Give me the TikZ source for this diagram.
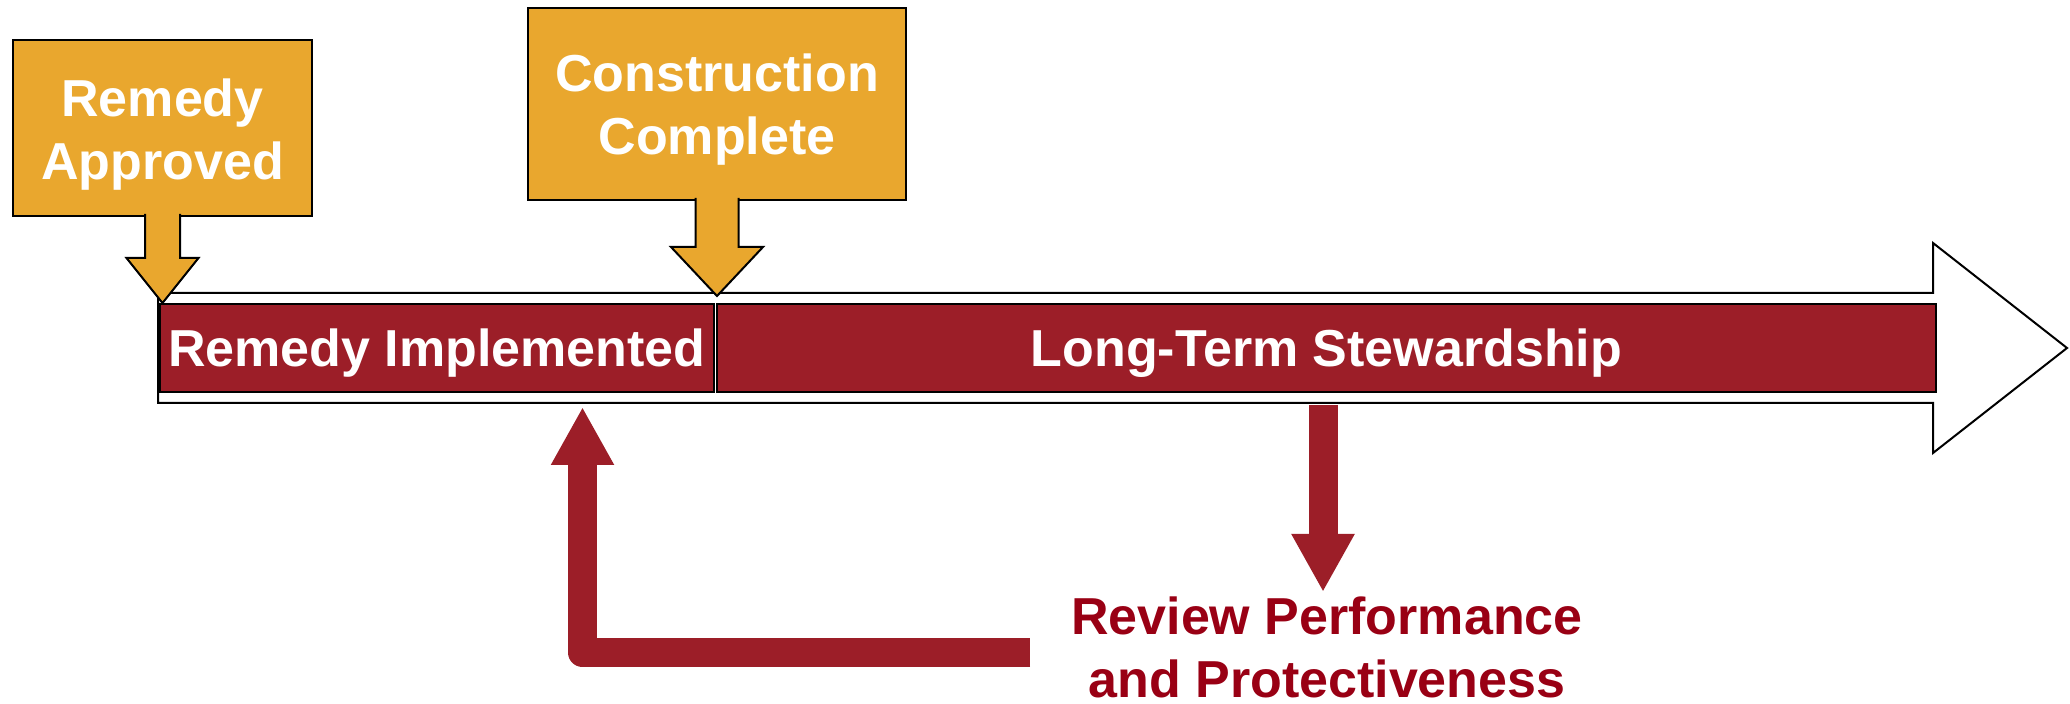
\documentclass[tikz,border=0pt]{standalone}
\usepackage{fontspec}
\setmainfont{Liberation Sans}
\usetikzlibrary{arrows.meta,calc}
\definecolor{calloutgold}{RGB}{233,167,46}
\definecolor{phasered}{RGB}{156,30,40}
\definecolor{reviewred}{RGB}{153,0,20}
\begin{document}
\begin{tikzpicture}[x=0.5pt, y=-0.5pt,
    big/.style={font=\fontsize{26}{31.5}\selectfont\bfseries},
    callout/.style={big, draw=black, line width=1pt, fill=calloutgold, text=white, align=center, inner sep=0pt},
    calloutarrow/.style={draw=black, line width=1pt, fill=calloutgold},
    phase/.style={big, draw=black, line width=1pt, fill=phasered, text=white, inner sep=0pt,
      minimum height=44pt, text height=19pt, text depth=0pt},
    feedback/.style={phasered, line width=14.5pt, line join=round, -{Triangle[width=29.5pt, length=29pt]}}]
    \useasboundingbox (0,0) rectangle (2070,704);
      \draw[line width=1pt, fill=white] (158,293) -- (1933,293) -- (1933,243) -- (2067,348)
        -- (1933,453) -- (1933,403) -- (158,403) -- cycle;
      \node[phase, minimum width=277pt] (ri) at (437,348) {Remedy Implemented};
      \node[phase, minimum width=609.5pt] (lts) at (1326.5,348) {Long-Term Stewardship};
      \node[callout, minimum width=149.5pt, minimum height=88pt] (ra) at (162.5,128)
        {\rule{0pt}{25.5pt}Remedy\\Approved};
      \node[callout, minimum width=189pt, minimum height=96pt] (cc) at (717,104)
        {\rule{0pt}{24.5pt}Construction\\Complete};
      \draw[calloutarrow] ($(ra.south)+(-17.5,-3)$) -- ++(0,44) -- ++(-18.5,0) -- ++(36,45)
        -- ++(36,-45) -- ++(-18.5,0) -- ++(0,-44);
      \draw[calloutarrow] ($(cc.south)+(-21.5,-3)$) -- ++(0,49) -- ++(-24.5,0) -- ++(46,49)
        -- ++(46,-49) -- ++(-24.5,0) -- ++(0,-49);
      \node[big, text=reviewred, align=center, inner sep=0pt, anchor=north] (rev) at (1327,596)
        {Review Performance\\and Protectiveness};
      \coordinate (drop) at (1323,405);
      \coordinate (droptip) at (1323,592);
      \coordinate (back) at (1030,652.5);
      \coordinate (backtip) at (582.5,407);
      \draw[feedback] (drop) to (droptip);
      \draw[feedback] (back) -- (backtip |- back) -- (backtip);
    \end{tikzpicture}
\end{document}
